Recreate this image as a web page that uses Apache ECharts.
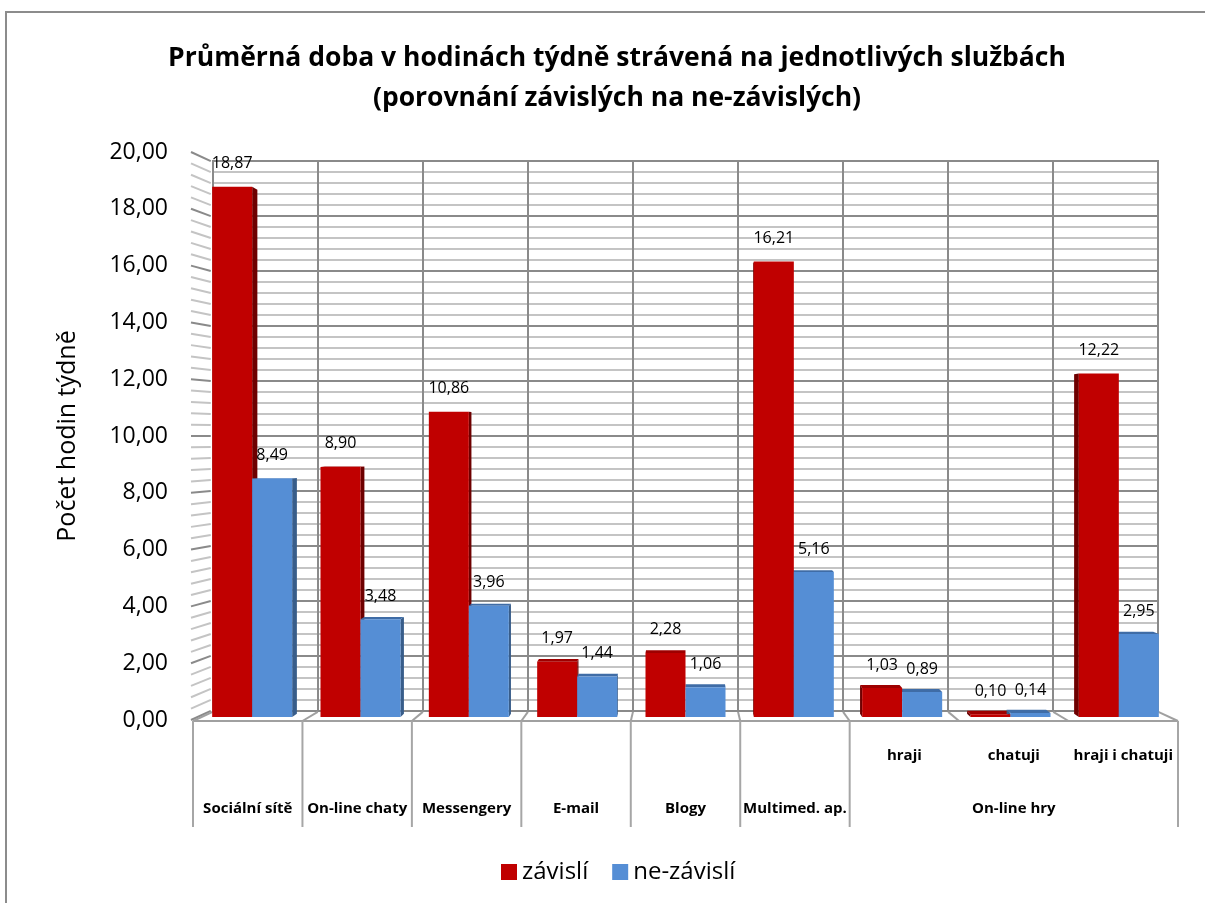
<!DOCTYPE html>
<html>
<head>
<meta charset="utf-8">
<script src="https://cdn.jsdelivr.net/npm/echarts@6/dist/echarts.min.js"></script>
<style>
  html, body { margin: 0; padding: 0; background: #fff; }
  #chart { width: 1205px; height: 903px; }
</style>
</head>
<body>
<div id="chart"></div>
<script>
const categories = ['Sociální sítě', 'On-line chaty', 'Messengery', 'E-mail', 'Blogy', 'Multimed. ap.', 'hraji', 'chatuji', 'hraji i chatuji']
const leafLabels = ['', '', '', '', '', '', 'hraji', 'chatuji', 'hraji i chatuji']
const groupLabels = ['Sociální sítě', 'On-line chaty', 'Messengery', 'E-mail', 'Blogy', 'Multimed. ap.', '', 'On-line hry', '']
const groupBounds = [0, 1, 2, 3, 4, 5, 6, 9]
const zavisli = [18.87, 8.90, 10.86, 1.97, 2.28, 16.21, 1.03, 0.10, 12.22]
const nezavisli = [8.49, 3.48, 3.96, 1.44, 1.06, 5.16, 0.89, 0.14, 2.95]

const font = 'Open Sans'
const barW = 40
const red = '#c00000'
const blue = '#558ed5'
const fmt = v => Number(v).toFixed(2).replace('.', ',')

const chart = echarts.init(document.getElementById('chart'))

// front -> back wall projection (Excel 3D look)
const SX = 0.96
const SY = 0.968

function decor(params, api) {
  const cs = params.coordSys
  const cx = cs.x + cs.width / 2
  const cy = cs.y + cs.height / 2
  const back = p => [cx + SX * (p[0] - cx), cy + SY * (p[1] - cy)]
  const band = api.size([1, 0])[0]
  const edgeX = i => api.coord([0, 0])[0] - band / 2 + i * band
  const y0 = api.coord([0, 0])[1] + 1
  const kids = []
  const line = (a, b, color, w) => kids.push({
    type: 'line',
    shape: { x1: a[0], y1: a[1], x2: b[0], y2: b[1] },
    style: { stroke: color, lineWidth: w }
  })
  // side wall
  for (let v = 0; v <= 20.001; v += 0.4) {
    const major = Math.abs(v / 2 - Math.round(v / 2)) < 0.01
    const p = [cs.x - 2, api.coord([0, v])[1]]
    line(p, back(p), major ? '#8a8a8a' : '#c4c4c4', 2)
  }
  // floor
  for (let i = 0; i <= categories.length; i++) {
    const p = [edgeX(i), y0]
    line(p, back(p), '#a0a0a0', 2)
  }
  line([edgeX(0), y0], [edgeX(categories.length), y0], '#a0a0a0', 2)
  // separators under the axis
  groupBounds.forEach(i => {
    line([edgeX(i), y0], [edgeX(i), y0 + 106], '#a6a6a6', 2)
  })
  return { type: 'group', children: kids }
}

function depth(side, topC, sideC) {
  return function (params, api) {
    const cs = params.coordSys
    const cx = cs.x + cs.width / 2
    const cy = cs.y + cs.height / 2
    const k = 0.988
    const p = api.coord([api.value(0), api.value(1)])
    const b = api.coord([api.value(0), 0])
    const x0 = side === 0 ? p[0] - barW : p[0]
    const x1 = x0 + barW
    const yt = p[1]
    const yb = b[1]
    const bk = (x, y) => [cx + k * (x - cx), cy + k * (y - cy)]
    const kids = []
    const poly = (pts, c) => kids.push({ type: 'polygon', shape: { points: pts }, style: { fill: c } })
    if (x1 < cx) {
      poly([[x1, yt], [x1, yb], bk(x1, yb), bk(x1, yt)], sideC)
    } else if (x0 > cx) {
      poly([[x0, yt], [x0, yb], bk(x0, yb), bk(x0, yt)], sideC)
    }
    if (yt > cy) {
      poly([[x0, yt], [x1, yt], bk(x1, yt), bk(x0, yt)], topC)
    }
    return { type: 'group', children: kids }
  }
}

chart.setOption({
  backgroundColor: '#fff',
  textStyle: { fontFamily: font, color: '#000' },
  title: {
    text: 'Průměrná doba v hodinách týdně strávená na jednotlivých službách\n(porovnání závislých na ne-závislých)',
    left: 612,
    textAlign: 'center',
    top: 33,
    textStyle: { fontFamily: font, fontSize: 26.5, fontWeight: 'bold', lineHeight: 40, color: '#000' }
  },
  legend: {
    data: ['závislí', 'ne-závislí'],
    left: 496,
    top: 855,
    icon: 'rect',
    itemWidth: 16,
    itemHeight: 16,
    itemGap: 24,
    textStyle: { fontFamily: font, fontSize: 24, color: '#000' }
  },
  graphic: [{
    type: 'rect',
    shape: { x: 6, y: 12, width: 1240, height: 920 },
    style: { fill: 'none', stroke: '#8c8c8c', lineWidth: 2 },
    silent: true
  }],
  grid: [
    { left: 193, right: 27, top: 152, bottom: 183 },
    { left: 213, right: 47, top: 161, bottom: 192, show: true, borderColor: '#8a8a8a', borderWidth: 2, backgroundColor: '#fff' },
    { left: 198, right: 32, top: 155, bottom: 186 }
  ],
  xAxis: [
    {
      type: 'category', gridIndex: 0, data: categories, position: 'bottom',
      axisLine: { show: false }, axisTick: { show: false }, splitLine: { show: false },
      axisLabel: { interval: 0, margin: 28, fontSize: 15, fontWeight: 'bold', color: '#000', formatter: (v, i) => leafLabels[i] }
    },
    {
      type: 'category', gridIndex: 0, data: categories, position: 'bottom',
      axisLine: { show: false }, axisTick: { show: false }, splitLine: { show: false },
      axisLabel: { interval: 0, margin: 81, fontSize: 15, fontWeight: 'bold', color: '#000', formatter: (v, i) => groupLabels[i] }
    },
    {
      type: 'category', gridIndex: 1, data: categories,
      axisLine: { show: false }, axisTick: { show: false }, axisLabel: { show: false },
      splitLine: { show: true, interval: 0, lineStyle: { color: '#8a8a8a', width: 2 } }
    },
    {
      type: 'category', gridIndex: 2, data: categories,
      axisLine: { show: false }, axisTick: { show: false }, axisLabel: { show: false }, splitLine: { show: false }
    }
  ],
  yAxis: [
    {
      type: 'value', gridIndex: 0, min: 0, max: 20, interval: 2,
      name: 'Počet hodin týdně', nameLocation: 'middle', nameGap: 113,
      nameTextStyle: { fontFamily: font, fontSize: 25, color: '#000' },
      axisLine: { show: false }, axisTick: { show: false }, splitLine: { show: false },
      axisLabel: { margin: 25, fontSize: 23, color: '#000', formatter: fmt }
    },
    {
      type: 'value', gridIndex: 1, min: 0, max: 20, interval: 2,
      axisLine: { show: false }, axisTick: { show: false }, axisLabel: { show: false },
      splitLine: { show: true, lineStyle: { color: '#8a8a8a', width: 2 } },
      minorTick: { show: false, splitNumber: 5 },
      minorSplitLine: { show: true, lineStyle: { color: '#c4c4c4', width: 2 } }
    },
    {
      type: 'value', gridIndex: 2, min: 0, max: 20, interval: 2,
      axisLine: { show: false }, axisTick: { show: false }, axisLabel: { show: false }, splitLine: { show: false }
    }
  ],
  series: [
    {
      name: 'závislí', type: 'bar', xAxisIndex: 3, yAxisIndex: 2, data: zavisli,
      barWidth: barW, barGap: '0%', z: 4,
      itemStyle: { color: red },
      label: { show: true, position: 'top', distance: 15, fontSize: 16, color: '#000', formatter: p => fmt(p.value) }
    },
    {
      name: 'ne-závislí', type: 'bar', xAxisIndex: 3, yAxisIndex: 2, data: nezavisli,
      barWidth: barW, barGap: '0%', z: 4,
      itemStyle: { color: blue },
      label: { show: true, position: 'top', distance: 15, fontSize: 16, color: '#000', formatter: p => fmt(p.value) }
    },
    {
      type: 'custom', xAxisIndex: 3, yAxisIndex: 2, z: 3, silent: true,
      data: zavisli.map((v, i) => [i, v]),
      renderItem: depth(0, '#9e0000', '#6e0000')
    },
    {
      type: 'custom', xAxisIndex: 3, yAxisIndex: 2, z: 3, silent: true,
      data: nezavisli.map((v, i) => [i, v]),
      renderItem: depth(1, '#3f6ca6', '#385d8a')
    },
    {
      type: 'custom', xAxisIndex: 0, yAxisIndex: 0, z: 1, silent: true,
      data: [[0, 0]],
      renderItem: decor
    }
  ]
})
</script>
</body>
</html>
